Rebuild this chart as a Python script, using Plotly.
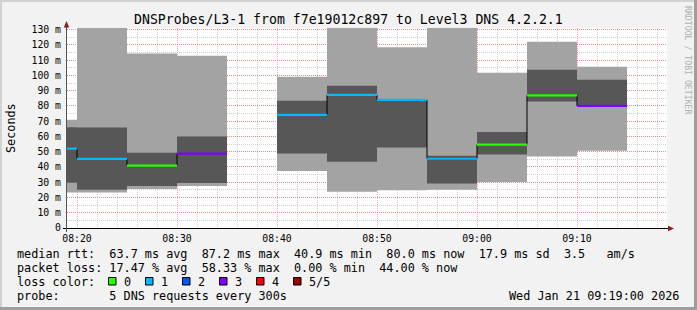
import plotly.graph_objects as go
import pandas as pd

# ---- data (rrd step end times, 5 min steps) ----
times = ["08:20", "08:25", "08:30", "08:35", "08:40", "08:45", "08:50",
         "08:55", "09:00", "09:05", "09:10", "09:15"]
ping_min = [23.2, 23.2, 25.6, 27.6, None, 37.4, 23.8, 24.7, 25.0, 30.2, 46.8, 50.6]
ping_lo = [29.7, 25.0, 27.6, 29.5, None, 48.8, 43.5, 52.7, 29.1, 48.1, 82.9, 79.6]
median = [52.0, 45.3, 40.9, 48.8, None, 74.2, 87.2, 84.0, 45.4, 54.7, 87.0, 80.0]
ping_hi = [66.1, 65.9, 49.4, 60.0, None, 83.4, 93.2, 84.4, 47.3, 63.0, 103.7, 97.2]
ping_max = [70.9, 135.0, 114.4, 112.9, None, 99.1, 135.0, 118.4, 135.0, 101.8, 122.1, 105.7]
loss = [1, 1, 0, 3, None, 1, 1, 1, 1, 0, 0, 3]

loss_labels = ["0", "1", "2", "3", "4", "5/5"]
loss_colors = ["#26ff00", "#00b8ff", "#0059ff", "#7e00ff", "#ff0000", "#a10000"]

y_tickvals = [0, 10, 20, 30, 40, 50, 60, 70, 80, 90, 100, 110, 120, 130]
y_ticktext = ["0"] + [f"{v} m" for v in y_tickvals[1:]]

title = "DNSProbes/L3-1 from f7e19012c897 to Level3 DNS 4.2.2.1"
legend_lines = [
    "median rtt:  63.7 ms avg  87.2 ms max  40.9 ms min  80.0 ms now  17.9 ms sd  3.5   am/s",
    "packet loss: 17.47 % avg  58.33 % max  0.00 % min  44.00 % now",
    "loss color:",
    "probe:       5 DNS requests every 300s",
]
date_text = "Wed Jan 21 09:19:00 2026"

DAY = "2026-01-21 "
STEP = pd.Timedelta(minutes=5)
t_end = [pd.Timestamp(DAY + t) for t in times]
t_start = [t - STEP for t in t_end]
t_mid = [t - STEP / 2 for t in t_end]
width_ms = [STEP.total_seconds() * 1000] * len(times)

MONO = "DejaVu Sans Mono"
W, H = 697, 310
L, R, T, B = 67, 30, 28, 82
PW, PH = W - L - R, H - T - B


def px(x):
    return (x - L) / PW


def py(y):
    return (T + PH - y) / PH


fig = go.Figure()

valid = [i for i, m in enumerate(median) if m is not None]

fig.add_trace(go.Bar(
    x=[t_mid[i] for i in valid], width=[width_ms[i] for i in valid],
    base=[ping_min[i] for i in valid],
    y=[ping_max[i] - ping_min[i] for i in valid],
    marker=dict(color="#a3a3a3", line=dict(width=0)), showlegend=False,
    hoverinfo="skip"))
fig.add_trace(go.Bar(
    x=[t_mid[i] for i in valid], width=[width_ms[i] for i in valid],
    base=[ping_lo[i] for i in valid],
    y=[ping_hi[i] - ping_lo[i] for i in valid],
    marker=dict(color="#575757", line=dict(width=0)), showlegend=False,
    hoverinfo="skip"))

# black median step line
bx, by = [], []
prev = None
for i in range(len(times)):
    if median[i] is None:
        bx.append(None); by.append(None)
        prev = None
        continue
    bx += [t_start[i], t_end[i]]
    by += [median[i], median[i]]
bx_clean, by_clean = [], []
for x, y in zip(bx, by):
    bx_clean.append(x); by_clean.append(y)
fig.add_trace(go.Scatter(x=bx_clean, y=by_clean, mode="lines",
                         line=dict(color="#000000", width=1),
                         connectgaps=False, showlegend=False, hoverinfo="skip"))

# coloured median segments by loss
for k, col in enumerate(loss_colors):
    cx, cy = [], []
    for i in range(len(times)):
        if loss[i] == k:
            cx += [t_start[i], t_end[i], None]
            cy += [median[i], median[i], None]
    if cx:
        fig.add_trace(go.Scatter(x=cx, y=cy, mode="lines",
                                 line=dict(color=col, width=2.2),
                                 showlegend=False, hoverinfo="skip"))

grid_major = "rgba(240,90,90,0.55)"
grid_minor = "rgba(150,150,150,0.45)"

fig.update_layout(
    width=W, height=H, margin=dict(l=L, r=R, t=T, b=B),
    paper_bgcolor="#f2f2f2", plot_bgcolor="#ffffff",
    barmode="overlay", showlegend=False,
    font=dict(family=MONO, color="#000000"),
    xaxis=dict(
        type="date",
        range=[DAY + "08:19:00", DAY + "09:19:00"],
        tick0=DAY + "08:20:00", dtick=600000, tickformat="%H:%M",
        showgrid=True, gridcolor=grid_major, griddash="1px,1px", gridwidth=1,
        minor=dict(dtick=120000, tick0=DAY + "08:20:00", showgrid=True,
                   gridcolor=grid_minor, griddash="1px,1px", gridwidth=1),
        ticks="", showline=False, zeroline=False,
        tickfont=dict(family=MONO, size=9.8, color="#000000"),
        ticklabelstandoff=3,
        layer="above traces", fixedrange=True,
    ),
    yaxis=dict(
        range=[0, 131.1],
        tickvals=y_tickvals, ticktext=y_ticktext,
        showgrid=True, gridcolor=grid_major, griddash="1px,1px", gridwidth=1,
        minor=dict(dtick=5, tick0=0, showgrid=True, gridcolor=grid_minor,
                   griddash="1px,1px", gridwidth=1),
        ticks="", showline=False, zeroline=False,
        tickfont=dict(family=MONO, size=9.8, color="#000000"),
        ticklabelstandoff=5,
        layer="above traces", fixedrange=True,
    ),
)

shapes = []
# axis lines
shapes.append(dict(type="line", xref="paper", yref="paper",
                   x0=px(63), x1=px(670), y0=py(228.5), y1=py(228.5),
                   line=dict(color="#000000", width=1)))
shapes.append(dict(type="line", xref="paper", yref="paper",
                   x0=px(66.5), x1=px(66.5), y0=py(232), y1=py(25),
                   line=dict(color="#555555", width=1)))
# arrows
shapes.append(dict(type="path", xref="paper", yref="paper",
                   path=f"M {px(63.8)} {py(27.5)} L {px(69.2)} {py(27.5)} L {px(66.5)} {py(21)} Z",
                   fillcolor="#8e1a1a", line=dict(width=0)))
shapes.append(dict(type="path", xref="paper", yref="paper",
                   path=f"M {px(668)} {py(225.8)} L {px(668)} {py(231.2)} L {px(674)} {py(228.5)} Z",
                   fillcolor="#8e1a1a", line=dict(width=0)))
# image border (rrdtool shading)
shapes.append(dict(type="rect", xref="paper", yref="paper",
                   x0=px(0), x1=px(W), y0=py(0), y1=py(2),
                   fillcolor="#d2d2d2", line=dict(width=0)))
shapes.append(dict(type="rect", xref="paper", yref="paper",
                   x0=px(0), x1=px(2), y0=py(0), y1=py(H),
                   fillcolor="#d2d2d2", line=dict(width=0)))
shapes.append(dict(type="rect", xref="paper", yref="paper",
                   x0=px(0), x1=px(W), y0=py(H - 3), y1=py(H),
                   fillcolor="#9e9e9e", line=dict(width=0)))
shapes.append(dict(type="rect", xref="paper", yref="paper",
                   x0=px(W - 3), x1=px(W), y0=py(0), y1=py(H),
                   fillcolor="#9e9e9e", line=dict(width=0)))
# loss colour swatches
for k, col in enumerate(loss_colors):
    x0 = 108.5 + 37 * k
    shapes.append(dict(type="rect", xref="paper", yref="paper",
                       x0=px(x0), x1=px(x0 + 7.5), y0=py(277.5), y1=py(285),
                       fillcolor=col, line=dict(color="#000000", width=1)))
fig.update_layout(shapes=shapes)

ann = []


def text(x, y, s, size, xanchor="left", angle=0, color="#000000"):
    ann.append(dict(x=px(x), y=py(y), xref="paper", yref="paper", text=s,
                    showarrow=False, xanchor=xanchor, yanchor="middle",
                    textangle=angle, borderpad=0,
                    font=dict(family=MONO, size=size, color=color)))


text(348, 19, title, 13.2, xanchor="center")
text(11, 128, "Seconds", 11.8, xanchor="center", angle=-90)
text(688, 60, "RRDTOOL / TOBI OETIKER", 8.2, xanchor="center", angle=90, color="#b0b0b0")
for j, line in enumerate(legend_lines):
    text(16, 254.3 + 14 * j, line, 11.8)
for k, lab in enumerate(loss_labels):
    text(123 + 37 * k, 282.3, lab, 11.8)
text(680, 296.3, date_text, 11.8, xanchor="right")
fig.update_layout(annotations=ann)

fig.write_html("out.html")
